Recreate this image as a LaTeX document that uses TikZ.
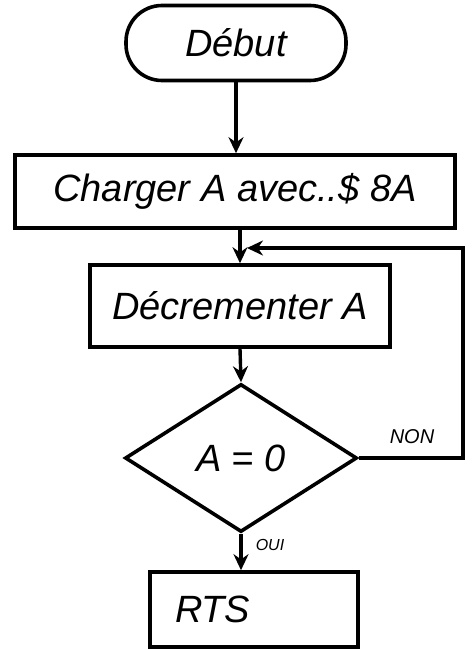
\documentclass[tikz,border=0pt]{standalone}
\usepackage{fontspec}
\setmainfont{Liberation Sans}
\usetikzlibrary{shapes.geometric,arrows.meta}
\begin{document}
\begin{tikzpicture}[x=1pt,y=-1pt,
  every node/.style={font=\itshape\fontsize{38}{42}\selectfont},
  box/.style={draw,line width=3.6pt,rectangle,inner sep=0pt},
  term/.style={box,rounded corners=36pt},
  decision/.style={draw,line width=3.6pt,diamond,inner sep=0pt},
  flow/.style={line width=3.4pt,-{Stealth[length=16pt,width=15pt]}},
  lbl/.style={font=\itshape\fontsize{20}{22}\selectfont}]
\useasboundingbox (0,0) rectangle (475,650);
\node[term,minimum width=220pt,minimum height=75pt] (debut) at (236,43) {Début};
\node[box,minimum width=440pt,minimum height=73pt] (charger) at (235,191.5) {Charger A avec..\$ 8A};
\node[box,minimum width=300pt,minimum height=82pt] (decr) at (240,306) {Décrementer A};
\node[decision,minimum width=232pt,minimum height=148pt] (test) at (241,458) {A = 0};
\node[box,minimum width=208pt,minimum height=75pt,text width=158pt,inner xsep=25pt,align=left] (rts) at (254,609.5) {RTS};
\coordinate (rc) at (463,248);
\coordinate (jn) at (247,248);
\draw[flow] (debut.south) -- (debut.south |- charger.north);
\draw[flow] (decr.north |- charger.south) -- (decr.north);
\draw[flow] (decr.south) -- (test.north);
\draw[flow] (test.east) -| (rc) -- (jn);
\draw[flow] (test.south) -- (test.south |- rts.north);
\node[lbl] (non) at (412,437) {NON};
\node[lbl,font=\itshape\fontsize{16}{18}\selectfont] (oui) at (270,545) {OUI};
\end{tikzpicture}
\end{document}
